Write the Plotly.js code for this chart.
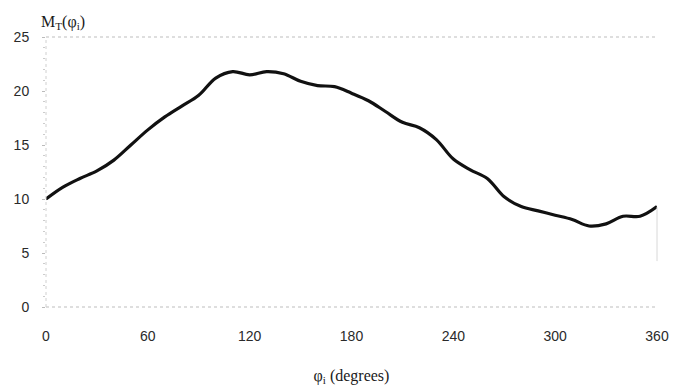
<!DOCTYPE html>
<html>
<head>
<meta charset="utf-8">
<script src="https://cdn.plot.ly/plotly-3.0.1.min.js"></script>
<style>html,body{margin:0;padding:0;background:#fff;}#chart{width:676px;height:388px;}</style>
</head>
<body>
<div id="chart"></div>
<script>
const phi = [0,10,20,30,40,50,60,70,80,90,100,110,120,130,140,150,160,170,180,190,200,210,220,230,240,250,260,270,280,290,300,310,320,330,340,350,360];
const mt = [10.0,11.1,11.9,12.6,13.6,15.0,16.4,17.6,18.6,19.6,21.2,21.8,21.5,21.8,21.6,20.9,20.5,20.4,19.8,19.1,18.1,17.1,16.6,15.5,13.7,12.7,11.9,10.2,9.3,8.9,8.5,8.1,7.5,7.7,8.4,8.4,9.3];
const xTicks = [0,60,120,180,240,300,360];
const yTicks = [0,5,10,15,20,25];

const trace = {
  x: phi, y: mt, type: 'scatter', mode: 'lines',
  line: {color: '#111', width: 3.2, shape: 'spline', smoothing: 1.0},
  hoverinfo: 'skip'
};

const layout = {
  width: 676, height: 388,
  margin: {l: 46, r: 19, t: 37, b: 81},
  paper_bgcolor: '#fff', plot_bgcolor: '#fff',
  showlegend: false,
  font: {family: 'Liberation Sans, Arial, sans-serif', size: 14, color: '#2a2a2a'},
  xaxis: {
    range: [0, 360], tickvals: xTicks, ticktext: xTicks.map(String),
    showgrid: false, zeroline: false, showline: false,
    ticks: '', ticklabelstandoff: 19,
    tickfont: {family: 'Liberation Sans, Arial, sans-serif', size: 14, color: '#2a2a2a'},
    title: {text: 'φ<sub>i</sub> (degrees)', standoff: 26,
            font: {family: 'Liberation Serif, Times New Roman, serif', size: 16, color: '#1a1a1a'}}
  },
  yaxis: {
    range: [0, 25], tickvals: yTicks, ticktext: yTicks.map(String),
    showgrid: false, zeroline: false, showline: false,
    ticks: 'outside', ticklen: 3, tickcolor: '#bbb', tickwidth: 1,
    minor: {dtick: 1, ticks: 'outside', ticklen: 2, tickcolor: '#ccc', tickwidth: 1},
    ticklabelstandoff: 10,
    tickfont: {family: 'Liberation Sans, Arial, sans-serif', size: 14, color: '#2a2a2a'}
  },
  shapes: [
    {type: 'line', xref: 'paper', yref: 'paper', x0: 0, x1: 1, y0: 0, y1: 0,
     line: {color: '#bdbdbd', width: 1, dash: 'dot'}},
    {type: 'line', xref: 'paper', yref: 'paper', x0: 0, x1: 1, y0: 1, y1: 1,
     line: {color: '#bdbdbd', width: 1, dash: 'dot'}},
    {type: 'line', xref: 'paper', yref: 'paper', x0: 0, x1: 0, y0: 0, y1: 1,
     line: {color: '#d0d0d0', width: 1, dash: 'dot'}},
    {type: 'line', xref: 'paper', yref: 'paper', x0: 1, x1: 1, y0: 0.17, y1: 0.37,
     line: {color: '#d8d8d8', width: 1}}
  ],
  annotations: [
    {text: 'M<sub>T</sub>(φ<sub>i</sub>)', xref: 'paper', yref: 'paper',
     x: -0.012, y: 1, xanchor: 'left', yanchor: 'bottom', yshift: 3, showarrow: false,
     font: {family: 'Liberation Serif, Times New Roman, serif', size: 16, color: '#1a1a1a'}}
  ]
};

Plotly.newPlot('chart', [trace], layout, {displayModeBar: false, staticPlot: true});
</script>
</body>
</html>
